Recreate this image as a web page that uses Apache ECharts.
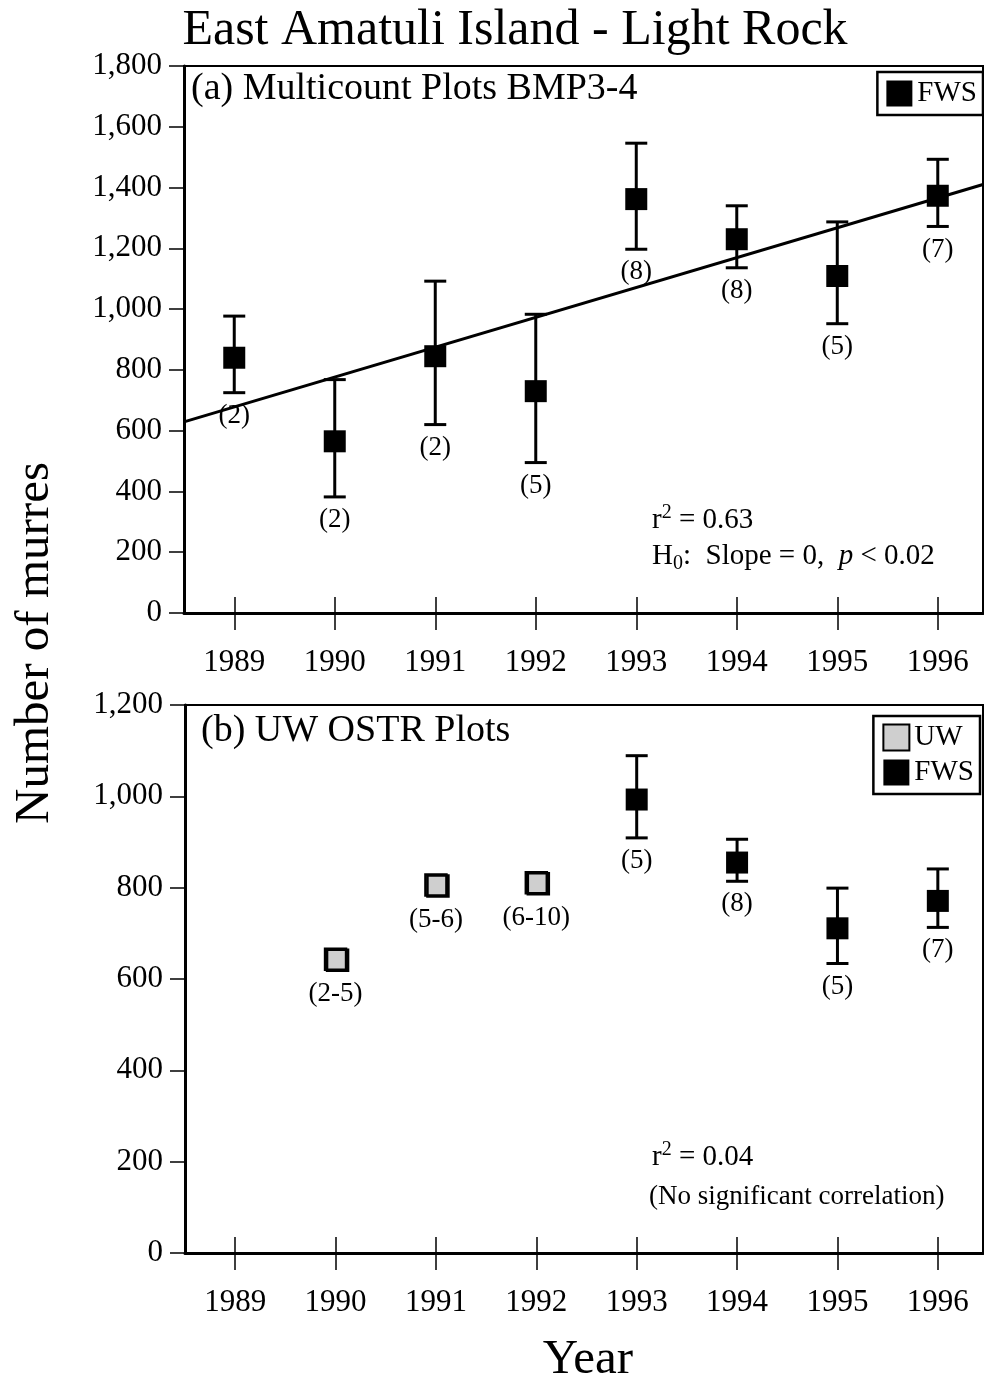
<!DOCTYPE html>
<html lang="en">
<head>
  <meta charset="UTF-8">
  <title>East Amatuli Island - Light Rock</title>
  <script src="https://cdn.jsdelivr.net/npm/echarts@6.0.0/dist/echarts.min.js"></script>
  <style>
    html, body { margin: 0; padding: 0; background: #fff; }
    #chart { width: 984px; height: 1382px; }
  </style>
</head>
<body>
  <div id="chart"></div>

  <script>
    const years = [1989, 1990, 1991, 1992, 1993, 1994, 1995, 1996];

    // (a) Multicount plots, FWS counts
    const aMean = [840, 565, 845, 730, 1362, 1230, 1109, 1373];
    const aLow  = [725, 382, 620, 495, 1197, 1136, 952, 1272];
    const aHigh = [977, 768, 1092, 983, 1546, 1340, 1287, 1493];
    const aN    = ['(2)', '(2)', '(2)', '(5)', '(8)', '(8)', '(5)', '(7)'];
    // regression line ends
    const trendX = [1988.5, 1996.45];
    const trendY = [629, 1410];

    // (b) UW OSTR plots
    const uwYears = [1990, 1991, 1992];
    const uwMean  = [643, 806, 811];
    const uwN     = ['(2-5)', '(5-6)', '(6-10)'];
    const fwsYears = [1993, 1994, 1995, 1996];
    const fwsMean  = [993, 855, 711, 771];
    const fwsLow   = [909, 814, 634, 713];
    const fwsHigh  = [1089, 906, 799, 841];
    const fwsN     = ['(5)', '(8)', '(5)', '(7)'];

    const FONT = '"Liberation Serif", "DejaVu Serif", serif';
    const chart = echarts.init(document.getElementById('chart'));

    // error bar + sample size label below it
    function errBar(labels, hasBar) {
      return function (params, api) {
        const x = api.value(0);
        const p = api.coord([x, api.value(1)]);
        const lo = api.coord([x, api.value(2)]);
        const hi = api.coord([x, api.value(3)]);
        const cap = 11;
        const ls = { stroke: '#000', lineWidth: 3 };
        const children = [];
        let bottom = p[1] + 12;
        if (hasBar) {
          children.push({ type: 'line', shape: { x1: lo[0], y1: lo[1], x2: hi[0], y2: hi[1] }, style: ls });
          children.push({ type: 'line', shape: { x1: lo[0] - cap, y1: lo[1], x2: lo[0] + cap, y2: lo[1] }, style: ls });
          children.push({ type: 'line', shape: { x1: hi[0] - cap, y1: hi[1], x2: hi[0] + cap, y2: hi[1] }, style: ls });
          bottom = lo[1];
        }
        children.push({
          type: 'text',
          style: {
            text: labels[params.dataIndex], x: p[0], y: bottom + 23,
            align: 'center', verticalAlign: 'middle',
            font: '27px ' + FONT, fill: '#000'
          }
        });
        return { type: 'group', children: children };
      };
    }

    function xAxes(gridIndex) {
      return [
        {
          gridIndex: gridIndex, type: 'value', min: 1988.5, max: 1996.45, position: 'bottom',
          axisLine: { show: true, lineStyle: { color: '#000', width: 3 } },
          axisTick: { show: true, customValues: years, length: 17, lineStyle: { color: '#000', width: 1.5 } },
          axisLabel: {
            customValues: years, margin: 34, fontSize: 31, fontFamily: FONT, color: '#000',
            formatter: v => String(v)
          },
          splitLine: { show: false }
        },
        {
          gridIndex: gridIndex, type: 'value', min: 1988.5, max: 1996.45, position: 'bottom',
          axisLine: { show: false },
          axisTick: { show: true, inside: true, customValues: years, length: 16, lineStyle: { color: '#000', width: 1.5 } },
          axisLabel: { show: false },
          splitLine: { show: false }
        }
      ];
    }

    function yAxis(gridIndex, max) {
      return {
        gridIndex: gridIndex, type: 'value', min: 0, max: max, interval: 200,
        axisLine: { show: true, lineStyle: { color: '#000', width: 3 } },
        axisTick: { show: true, length: 15, lineStyle: { color: '#000', width: 1.5 } },
        axisLabel: { margin: 22, fontSize: 31, fontFamily: FONT, color: '#000' },
        splitLine: { show: false }
      };
    }

    const legendBase = {
      orient: 'vertical',
      icon: 'rect',
      itemWidth: 26,
      itemHeight: 26,
      itemGap: 6,
      padding: [7, 6, 7, 9],
      borderColor: '#000',
      borderWidth: 2.5,
      backgroundColor: '#fff',
      selectedMode: false,
      textStyle: { fontSize: 29, fontFamily: FONT, color: '#000' }
    };

    const supRich = { sup: { fontSize: 20, fontFamily: FONT, verticalAlign: 'top', padding: [0, 0, 14, 0] } };

    const option = {
      backgroundColor: '#fff',
      animation: false,
      grid: [
        { left: 184, top: 66, width: 799, height: 547, show: true, borderColor: '#000', borderWidth: 2 },
        { left: 185, top: 705, width: 798, height: 548, show: true, borderColor: '#000', borderWidth: 2 }
      ],
      xAxis: xAxes(0).concat(xAxes(1)),
      yAxis: [yAxis(0, 1800), yAxis(1, 1200)],
      legend: [
        Object.assign({}, legendBase, { data: ['FWS'], right: 1, top: 72 }),
        Object.assign({}, legendBase, { data: ['UW', 'FWS'], right: 4, top: 716 })
      ],
      graphic: [
        { type: 'text', x: 515, y: 31, style: { text: 'East Amatuli Island - Light Rock', font: '50px ' + FONT, fill: '#000', align: 'center', verticalAlign: 'middle' } },
        { type: 'text', x: 191, y: 89, style: { text: '(a) Multicount Plots BMP3-4', font: '38px ' + FONT, fill: '#000', verticalAlign: 'middle' } },
        { type: 'text', x: 201, y: 731, style: { text: '(b) UW OSTR Plots', font: '38px ' + FONT, fill: '#000', verticalAlign: 'middle' } },
        { type: 'text', x: 35, y: 643, rotation: Math.PI / 2, style: { text: 'Number of murres', font: '49px ' + FONT, fill: '#000', align: 'center', verticalAlign: 'middle' } },
        { type: 'text', x: 588, y: 1360, style: { text: 'Year', font: '49px ' + FONT, fill: '#000', align: 'center', verticalAlign: 'middle' } },
        {
          type: 'text', x: 652, y: 520,
          style: { text: 'r{sup|2} = 0.63', font: '29px ' + FONT, fill: '#000', verticalAlign: 'middle', rich: supRich }
        },
        {
          type: 'text', x: 652, y: 556,
          style: {
            text: 'H{sub|0}:  Slope = 0,  {i|p} < 0.02', font: '29px ' + FONT, fill: '#000', verticalAlign: 'middle',
            rich: {
              sub: { fontSize: 20, fontFamily: FONT, verticalAlign: 'bottom', padding: [16, 0, 0, 0] },
              i: { fontSize: 29, fontFamily: FONT, fontStyle: 'italic' }
            }
          }
        },
        {
          type: 'text', x: 652, y: 1157,
          style: { text: 'r{sup|2} = 0.04', font: '29px ' + FONT, fill: '#000', verticalAlign: 'middle', rich: supRich }
        },
        { type: 'text', x: 649, y: 1197, style: { text: '(No significant correlation)', font: '27px ' + FONT, fill: '#000', verticalAlign: 'middle' } }
      ],
      series: [
        {
          name: 'trend', type: 'line', xAxisIndex: 0, yAxisIndex: 0,
          data: [[trendX[0], trendY[0]], [trendX[1], trendY[1]]],
          symbol: 'none', lineStyle: { color: '#000', width: 3 }, z: 2
        },
        {
          name: 'errA', type: 'custom', xAxisIndex: 0, yAxisIndex: 0,
          renderItem: errBar(aN, true),
          encode: { x: 0, y: [1, 2, 3] },
          data: years.map((y, i) => [y, aMean[i], aLow[i], aHigh[i]]), z: 3
        },
        {
          name: 'FWS', type: 'scatter', xAxisIndex: 0, yAxisIndex: 0,
          symbol: 'rect', symbolSize: 22,
          itemStyle: { color: '#000', opacity: 1 },
          data: years.map((y, i) => [y, aMean[i]]), z: 4
        },
        {
          name: 'errB', type: 'custom', xAxisIndex: 2, yAxisIndex: 1,
          renderItem: errBar(fwsN, true),
          encode: { x: 0, y: [1, 2, 3] },
          data: fwsYears.map((y, i) => [y, fwsMean[i], fwsLow[i], fwsHigh[i]]), z: 3
        },
        {
          name: 'uwLabels', type: 'custom', xAxisIndex: 2, yAxisIndex: 1,
          renderItem: errBar(uwN, false),
          encode: { x: 0, y: [1, 2, 3] },
          data: uwYears.map((y, i) => [y, uwMean[i], uwMean[i], uwMean[i]]), z: 3
        },
        {
          name: 'UW', type: 'scatter', xAxisIndex: 2, yAxisIndex: 1,
          symbol: 'rect', symbolSize: 21,
          itemStyle: {
            color: '#cfcfcf', borderColor: '#000', borderWidth: 2.5, opacity: 1,
            shadowColor: '#000', shadowOffsetX: 2, shadowOffsetY: 1, shadowBlur: 0
          },
          data: uwYears.map((y, i) => [y, uwMean[i]]), z: 4
        },
        {
          name: 'FWS', type: 'scatter', xAxisIndex: 2, yAxisIndex: 1,
          symbol: 'rect', symbolSize: 22,
          itemStyle: { color: '#000', opacity: 1 },
          data: fwsYears.map((y, i) => [y, fwsMean[i]]), z: 4
        }
      ]
    };

    chart.setOption(option);
  </script>
</body>
</html>
